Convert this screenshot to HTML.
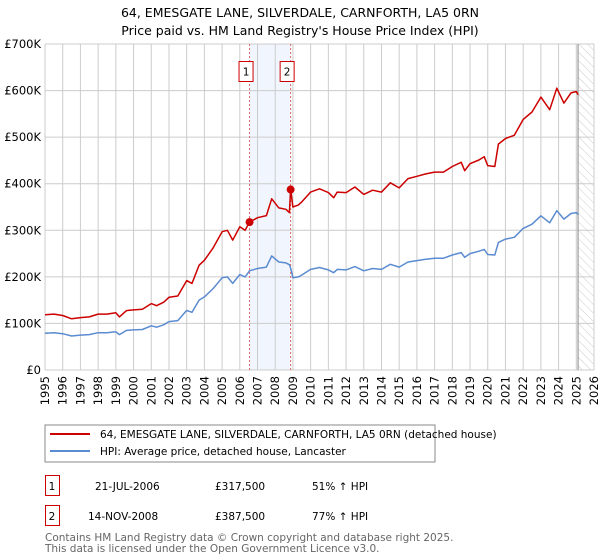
<!DOCTYPE html>
<html><head><meta charset="utf-8">
<style>
body{margin:0;background:#fff;font-family:"DejaVu Sans","Liberation Sans",sans-serif;}
#wrap{position:relative;width:600px;height:560px;overflow:hidden}
svg text{font-family:"DejaVu Sans","Liberation Sans",sans-serif}
</style></head><body>
<div id="wrap">
<svg id="chart" width="600" height="560">
<defs><pattern id="hatch" width="6" height="6" patternUnits="userSpaceOnUse" patternTransform="rotate(-45)"><line x1="0" y1="0" x2="0" y2="6" stroke="#ccc" stroke-width="1"/></pattern></defs>
<text x="300" y="17" text-anchor="middle" font-size="12.5">64, EMESGATE LANE, SILVERDALE, CARNFORTH, LA5 0RN</text>
<text x="300" y="35" text-anchor="middle" font-size="12.5">Price paid vs. HM Land Registry's House Price Index (HPI)</text>
<g id="grid"></g><g id="marks"></g><g id="axes"></g>
<rect x="45" y="425" width="390" height="37" fill="#fff" stroke="#888"/>
<line x1="50" y1="434" x2="90" y2="434" stroke="#cc0000" stroke-width="2"/>
<text x="100" y="438" font-size="10.5">64, EMESGATE LANE, SILVERDALE, CARNFORTH, LA5 0RN (detached house)</text>
<line x1="50" y1="451" x2="90" y2="451" stroke="#5b8bd0" stroke-width="2"/>
<text x="100" y="455" font-size="10.5">HPI: Average price, detached house, Lancaster</text>
<g>
<rect x="45.5" y="475.5" width="14" height="20" fill="#fff" stroke="#cc0000"/>
<text x="52" y="490" font-size="10.5" text-anchor="middle">1</text>
<text x="95" y="490" font-size="10.5">21-JUL-2006</text>
<text x="215" y="490" font-size="10.5">£317,500</text>
<text x="312" y="490" font-size="10.5">51% ↑ HPI</text></g>
<g>
<rect x="45.5" y="505.5" width="14" height="20" fill="#fff" stroke="#cc0000"/>
<text x="52" y="520" font-size="10.5" text-anchor="middle">2</text>
<text x="88" y="520" font-size="10.5">14-NOV-2008</text>
<text x="215" y="520" font-size="10.5">£387,500</text>
<text x="312" y="520" font-size="10.5">77% ↑ HPI</text></g>
<text x="45" y="541" font-size="10.5" fill="#666">Contains HM Land Registry data © Crown copyright and database right 2025.</text>
<text x="45" y="552" font-size="10.5" fill="#666">This data is licensed under the Open Government Licence v3.0.</text>
</svg></div>
<script>
const years=[1995,1995.5,1996,1996.5,1997,1997.5,1998,1998.5,1999,1999.2,1999.6,2000,2000.5,2001,2001.3,2001.7,2002,2002.5,2003,2003.3,2003.7,2004,2004.5,2005,2005.3,2005.6,2006,2006.3,2006.55,2007,2007.5,2007.8,2008.2,2008.6,2008.8,2008.87,2009,2009.3,2009.5,2010,2010.5,2011,2011.3,2011.5,2012,2012.5,2013,2013.5,2014,2014.5,2015,2015.5,2016,2016.5,2017,2017.5,2018,2018.5,2018.7,2019,2019.5,2019.8,2020,2020.4,2020.6,2021,2021.5,2022,2022.5,2023,2023.5,2023.9,2024.3,2024.7,2025,2025.1];
const hpiValues=[79,80,78,73,75,76,80,80,82,76,85,86,87,95,92,97,104,106,128,124,150,157,175,198,200,186,205,200,213,218,221,245,232,230,226,219,198,200,204,216,220,215,209,216,215,222,213,218,216,227,221,232,235,238,240,240,247,252,242,250,255,259,248,247,274,281,285,304,313,331,316,342,324,336,338,334];
const priceValues=[118.5,120,117,110,112.5,114,120,120,123,114,127.5,129,130.5,142.5,138,145.5,156,159,192,186,225,235.5,262.5,297,300,279,307.5,300,317.5,327,331.5,367.5,348,345,338,387.5,350,354,361,382,389,381,370,382,381,393,377,386,382,402,391,411,416,421,425,425,437,446,428,443,451,458,439,437,485,497,504,538,554,586,559,605,573,595,598,591];
const saleYears=[2006.55,2008.87];
const salePrices=[317.5,387.5];
const saleLabels=["1","2"];
const yTicks=[0,100,200,300,400,500,600,700];
const yTickLabels=["£0","£100K","£200K","£300K","£400K","£500K","£600K","£700K"];
const xTicks=[1995,1996,1997,1998,1999,2000,2001,2002,2003,2004,2005,2006,2007,2008,2009,2010,2011,2012,2013,2014,2015,2016,2017,2018,2019,2020,2021,2022,2023,2024,2025,2026];
const dataEnd=2025.1;

const X0=45,X1=594,Y0=370,Y1=44;
const xs=y=>X0+(y-1995)/(2026-1995)*(X1-X0);
const ys=v=>Y0-v/700*(Y0-Y1);
const NS="http://www.w3.org/2000/svg";
function mk(tag,parent,attrs){const e=document.createElementNS(NS,tag);for(const k in attrs)e.setAttribute(k,attrs[k]);parent.appendChild(e);return e;}
const grid=document.getElementById('grid'),marks=document.getElementById('marks'),axes=document.getElementById('axes');

let sp=mk('rect',grid,{x:xs(saleYears[0]),y:Y1,width:xs(saleYears[1])-xs(saleYears[0]),height:Y0-Y1,fill:'#f1f5fd'});


let ht=mk('rect',grid,{x:xs(dataEnd),y:Y1,width:X1-xs(dataEnd),height:Y0-Y1,fill:'url(#hatch)'});



yTicks.forEach((t,i)=>{
  const l=mk('line',grid,{x1:X0,x2:X1,y1:ys(t),y2:ys(t),stroke:'#ccc','stroke-width':1});
  
  
  const tx=mk('text',axes,{x:X0-4,y:ys(t)+4,'text-anchor':'end','font-size':'11.5'});
  tx.textContent=yTickLabels[i];
  
  
});
xTicks.forEach(t=>{
  const l=mk('line',grid,{x1:xs(t),x2:xs(t),y1:Y1,y2:Y0,stroke:'#ccc','stroke-width':1});
  
  
  const tx=mk('text',axes,{x:0,y:0,'font-size':'11.5','text-anchor':'end',transform:`translate(${xs(t)+4},${Y0+6}) rotate(-90)`});
  tx.textContent=t;
  
  
});
let de=mk('line',grid,{x1:xs(dataEnd),x2:xs(dataEnd),y1:Y1,y2:Y0,stroke:'#999','stroke-width':1.2});



saleYears.forEach((y,i)=>{
  const l=mk('line',marks,{x1:xs(y),x2:xs(y),y1:Y1,y2:Y0,stroke:'#e06666','stroke-width':1,'stroke-dasharray':'2,2'});
  
  
});

function path(vals,color,name){
  const d=years.map((y,i)=>(i?'L':'M')+xs(y).toFixed(1)+','+ys(vals[i]).toFixed(1)).join('');
  const p=mk('path',marks,{d:d,fill:'none',stroke:color,'stroke-width':1.5,'stroke-linejoin':'round'});
  
  
}
path(hpiValues,'#5b8bd0','hpi-line');
path(priceValues,'#cc0000','price-paid-line');

saleYears.forEach((y,i)=>{
  const c=mk('circle',marks,{cx:xs(y),cy:ys(salePrices[i]),r:4,fill:'#cc0000'});
  
  
  const g=mk('g',marks,{});
  
  
  mk('rect',g,{x:xs(y)-10.5,y:61.5,width:14,height:20,fill:'#fff',stroke:'#cc0000'});
  const t=mk('text',g,{x:xs(y)-3.5,y:75.5,'text-anchor':'middle','font-size':'10.5'});
  t.textContent=saleLabels[i];
});
</script>
</body></html>
